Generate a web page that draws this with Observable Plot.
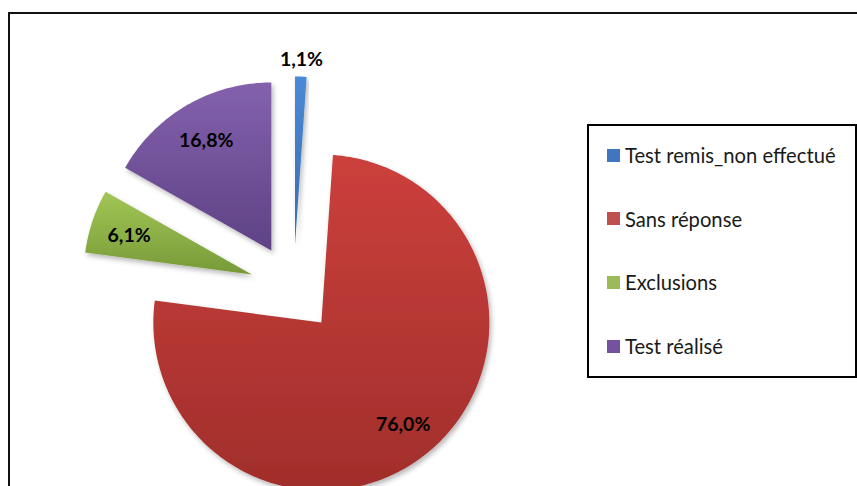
<!DOCTYPE html>
<html>
<head>
<meta charset="utf-8">
<script src="https://cdn.jsdelivr.net/npm/d3@7"></script>
<script src="https://cdn.jsdelivr.net/npm/@observablehq/plot@0.6"></script>
<style>
  html, body { margin: 0; padding: 0; background: #fff; }
  #wrap { position: relative; width: 857px; height: 486px; overflow: hidden; background: #fff; }
  #frame { position: absolute; left: 8px; top: 12px; width: 900px; height: 520px; border: 2px solid #111; box-sizing: border-box; }
  #chart { position: absolute; left: 0; top: 0; }
  #legend { position: absolute; left: 587px; top: 124px; width: 270px; height: 254px; border: 2px solid #000; box-sizing: border-box; background: #fff; font-family: Lato, "Open Sans", sans-serif; font-size: 20.2px; color: #1a1a1a; }
  .item { position: absolute; left: 18px; height: 24px; display: flex; align-items: center; white-space: nowrap; }
  .sw { width: 13px; height: 13px; margin-right: 5px; flex: none; }
</style>
</head>
<body>
<div id="wrap">
  <div id="frame"></div>
  <div id="chart"></div>
  <div id="legend"></div>
</div>
<script>
// ---- data ----
const categories = ["Test remis_non effectué", "Sans réponse", "Exclusions", "Test réalisé"];
const shares = [1.1, 76.0, 6.1, 16.8];
const labels = ["1,1%", "76,0%", "6,1%", "16,8%"];
const topColors = ["#4a8ad6", "#cc403c", "#a3c656", "#8461ad"];
const bottomColors = ["#3a6cb0", "#a02e2b", "#779a38", "#5e4285"];
const swatchColors = ["#3f76bd", "#c0504d", "#9bbb59", "#7452a0"];

// ---- geometry from data ----
const total = d3.sum(shares);
const EXPLODE = 0.262;
let acc = 0;
const slices = shares.map((v, i) => {
  const a0 = acc / total * 2 * Math.PI;
  acc += v;
  const a1 = acc / total * 2 * Math.PI;
  const mid = (a0 + a1) / 2;
  const ox = EXPLODE * Math.sin(mid), oy = EXPLODE * Math.cos(mid);
  return {i, key: categories[i], a0, a1, mid, ox, oy, share: v};
});

const slicePoints = slices.map(s => {
  const pts = [{key: s.key, x: s.ox, y: s.oy}];
  const n = Math.max(2, Math.ceil((s.a1 - s.a0) / (Math.PI / 180)));
  for (let k = 0; k <= n; k++) {
    const t = s.a0 + (s.a1 - s.a0) * k / n;
    pts.push({key: s.key, x: s.ox + Math.sin(t), y: s.oy + Math.cos(t)});
  }
  return pts;
});

const labelData = slices.map(s => {
  const r = s.share < 3 ? 1.11 : 0.77;
  return {label: labels[s.i], x: s.ox + r * Math.sin(s.mid), y: s.oy + r * Math.cos(s.mid)};
});

const cx = 293, cy = 288, R = 168;

const chart = Plot.plot({
  width: 857,
  height: 486,
  margin: 0,
  style: {background: "transparent", overflow: "visible"},
  x: {domain: [-1, 1], range: [cx - R, cx + R], axis: null},
  y: {domain: [-1, 1], range: [cy + R, cy - R], axis: null},
  marks: [
    ...slicePoints.map((pts, i) => Plot.line(pts, {
      x: "x", y: "y", curve: "linear-closed",
      fill: `url(#grad${i})`, stroke: "none"
    })),
    Plot.text(labelData, {
      x: "x", y: "y", text: "label", dy: 2,
      fontFamily: "Lato, 'Open Sans', sans-serif", fontWeight: "bold", fontSize: 19.5, fill: "#000"
    })
  ]
});

const svg = d3.select(chart);
const defs = svg.insert("defs", ":first-child");
slices.forEach((s, i) => {
  const g = defs.append("linearGradient").attr("id", `grad${i}`)
    .attr("x1", 0).attr("y1", 0).attr("x2", 0).attr("y2", 1);
  g.append("stop").attr("offset", "0%").attr("stop-color", topColors[i]);
  g.append("stop").attr("offset", "100%").attr("stop-color", bottomColors[i]);
});
const f = defs.append("filter").attr("id", "shadow").attr("x", "-20%").attr("y", "-20%").attr("width", "140%").attr("height", "140%");
f.append("feDropShadow").attr("dx", 2).attr("dy", 3).attr("stdDeviation", 2.5).attr("flood-color", "#000").attr("flood-opacity", 0.28);
svg.selectAll("g[aria-label='line'] path").attr("filter", "url(#shadow)");

document.getElementById("chart").appendChild(chart);

// ---- legend ----
const legend = d3.select("#legend");
categories.forEach((c, i) => {
  const item = legend.append("div").attr("class", "item").style("top", (31 + 63.7 * i - 2 - 12) + "px");
  item.append("div").attr("class", "sw").style("background", swatchColors[i]);
  item.append("span").text(c);
});
</script>
</body>
</html>
